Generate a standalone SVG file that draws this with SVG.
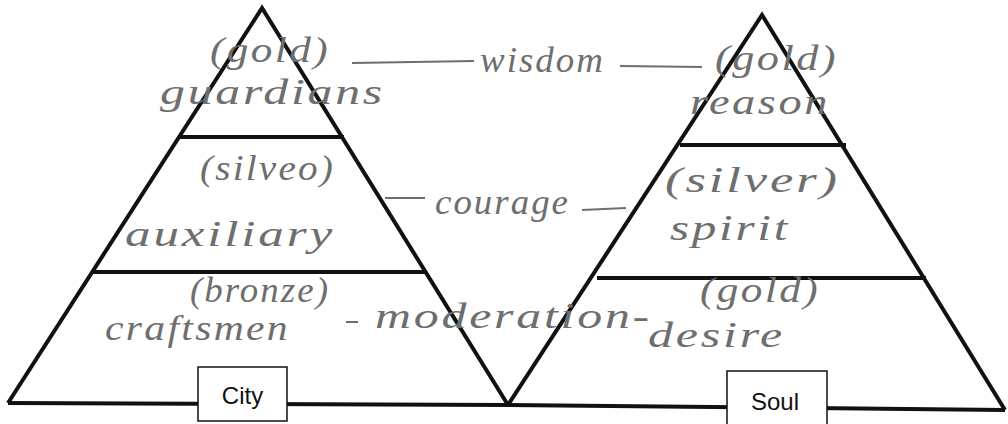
<svg xmlns="http://www.w3.org/2000/svg" width="1008" height="424" viewBox="0 0 1008 424">
<style>
.edge{stroke:#111;stroke-width:4;fill:none;stroke-linejoin:miter}
.hw{font-family:"Liberation Serif",serif;font-style:italic;fill:#6e6e6e;font-size:36px;letter-spacing:2px}
.conn{stroke:#6e6e6e;stroke-width:2;fill:none}
.box{fill:#fff;stroke:#111;stroke-width:1.5}
.lbl{font-family:"Liberation Sans",Arial,sans-serif;font-size:24px;fill:#111;text-anchor:middle}
</style>
<rect width="1008" height="424" fill="#fff"/>
<g id="base">
<path class="edge" d="M8,403 L508,405 L1005,410"/>
</g>
<g id="city-pyramid">
<path class="edge" d="M8,403 L262,8 L508,405"/>
<line class="edge" x1="178" y1="137" x2="344" y2="137"/>
<line class="edge" x1="93" y1="272" x2="425" y2="272"/>
</g>
<g id="soul-pyramid">
<path class="edge" d="M508,405 L762,15 L1005,410"/>
<line class="edge" x1="680" y1="145" x2="846" y2="145"/>
<line class="edge" x1="597" y1="278" x2="926" y2="278"/>
</g>
<g id="guardians">
<text class="hw" x="210" y="62" textLength="120" lengthAdjust="spacingAndGlyphs">(gold)</text>
<text class="hw" x="160" y="104" textLength="225" lengthAdjust="spacingAndGlyphs">guardians</text>
</g>
<g id="auxiliary">
<text class="hw" x="200" y="180" textLength="135" lengthAdjust="spacingAndGlyphs">(silveo)</text>
<text class="hw" x="125" y="246" textLength="210" lengthAdjust="spacingAndGlyphs">auxiliary</text>
</g>
<g id="craftsmen">
<text class="hw" x="190" y="302" textLength="140" lengthAdjust="spacingAndGlyphs">(bronze)</text>
<text class="hw" x="105" y="340" textLength="185" lengthAdjust="spacingAndGlyphs">craftsmen</text>
</g>
<g id="reason">
<text class="hw" x="715" y="70" textLength="123" lengthAdjust="spacingAndGlyphs">(gold)</text>
<text class="hw" x="690" y="114" textLength="140" lengthAdjust="spacingAndGlyphs">reason</text>
</g>
<g id="spirit">
<text class="hw" x="665" y="192" textLength="175" lengthAdjust="spacingAndGlyphs">(silver)</text>
<text class="hw" x="670" y="240" textLength="120" lengthAdjust="spacingAndGlyphs">spirit</text>
</g>
<g id="desire">
<text class="hw" x="700" y="302" textLength="120" lengthAdjust="spacingAndGlyphs">(gold)</text>
<text class="hw" x="648" y="347" textLength="137" lengthAdjust="spacingAndGlyphs">desire</text>
</g>
<g id="connectors">
<line class="conn" x1="352" y1="63" x2="474" y2="61"/>
<line class="conn" x1="620" y1="66" x2="702" y2="67"/>
<line class="conn" x1="385" y1="198" x2="425" y2="198"/>
<line class="conn" x1="582" y1="210" x2="626" y2="208"/>
<line class="conn" x1="346" y1="322" x2="358" y2="322"/>
</g>
<g id="virtues">
<text class="hw" x="480" y="72" textLength="125" lengthAdjust="spacingAndGlyphs">wisdom</text>
<text class="hw" x="435" y="214" textLength="135" lengthAdjust="spacingAndGlyphs">courage</text>
<text class="hw" x="375" y="328" textLength="277" lengthAdjust="spacingAndGlyphs">moderation-</text>
</g>
<g id="city">
<rect class="box" x="198" y="367" width="89" height="54"/>
<text class="lbl" x="242.5" y="404">City</text>
</g>
<g id="soul">
<rect class="box" x="727" y="371" width="100" height="60"/>
<text class="lbl" x="775" y="410">Soul</text>
</g>
</svg>
